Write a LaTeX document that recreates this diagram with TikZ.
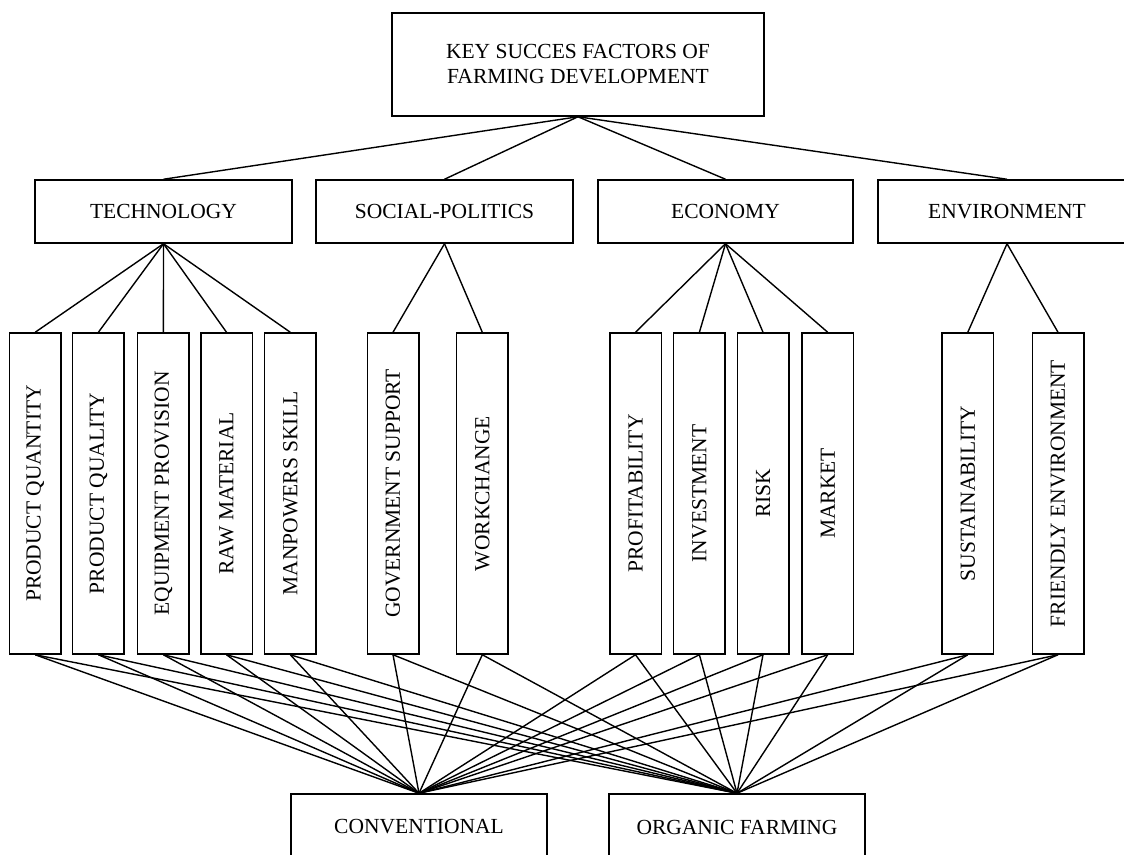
\documentclass[tikz,border=0pt]{standalone}
\usepackage{fontspec}
\usepackage{graphicx}
\setmainfont{Liberation Serif}
\begin{document}
\begin{tikzpicture}[x=1pt,y=-1pt,
  box/.style={draw,line width=1.5pt,inner sep=0pt,align=center,
    font=\fontsize{21.5}{25}\selectfont},
  catbox/.style={box,minimum height=63pt},
  leafbox/.style={box,minimum width=51.5pt,minimum height=321pt},
  altbox/.style={box,minimum width=256pt,minimum height=66pt},
  conn/.style={line width=1.4pt}]
\useasboundingbox (0,0) rectangle (1124,854);
\clip (0,0) rectangle (1124,854);
% goal
\node[box,minimum width=372pt,minimum height=103pt] (goal) at (578,64.5)
  {KEY SUCCES FACTORS OF\\FARMING DEVELOPMENT};
% criteria
\node[catbox,minimum width=257pt] (tech) at (163.5,211.5) {TECHNOLOGY};
\node[catbox,minimum width=257pt] (soc)  at (444.5,211.5) {SOCIAL-POLITICS};
\node[catbox,minimum width=255pt] (eco)  at (725.5,211.5) {ECONOMY};
\node[catbox,minimum width=258pt] (env)  at (1007,211.5) {ENVIRONMENT};
% sub-criteria
\node[leafbox] (l1)  at (35.2,493.5)  {\rotatebox{90}{PRODUCT QUANTITY}};
\node[leafbox] (l2)  at (98.4,493.5)  {\rotatebox{90}{PRODUCT QUALITY}};
\node[leafbox] (l3)  at (163.4,493.5) {\rotatebox{90}{EQUIPMENT PROVISION}};
\node[leafbox] (l4)  at (226.5,493.5) {\rotatebox{90}{RAW MATERIAL}};
\node[leafbox] (l5)  at (290.3,493.5) {\rotatebox{90}{MANPOWERS SKILL}};
\node[leafbox] (l6)  at (393,493.5)   {\rotatebox{90}{GOVERNMENT SUPPORT}};
\node[leafbox] (l7)  at (482.3,493.5) {\rotatebox{90}{WORKCHANGE}};
\node[leafbox] (l8)  at (635.5,493.5) {\rotatebox{90}{PROFITABILITY}};
\node[leafbox] (l9)  at (699.4,493.5) {\rotatebox{90}{INVESTMENT}};
\node[leafbox] (l10) at (763,493.5)   {\rotatebox{90}{RISK}};
\node[leafbox] (l11) at (827.7,493.5) {\rotatebox{90}{MARKET}};
\node[leafbox] (l12) at (967.8,493.5) {\rotatebox{90}{SUSTAINABILITY}};
\node[leafbox] (l13) at (1058,493.5)  {\rotatebox{90}{FRIENDLY ENVIRONMENT}};
% alternatives
\node[altbox] (conv) at (419,827) {CONVENTIONAL};
\node[altbox] (org)  at (737,827) {ORGANIC FARMING};
% goal -> criteria
\foreach \c in {tech,soc,eco,env} \draw[conn] (goal.south) -- (\c.north);
% criteria -> sub-criteria
\foreach \l in {l1,l2,l3,l4,l5} \draw[conn] (tech.south) -- (\l.north);
\foreach \l in {l6,l7} \draw[conn] (soc.south) -- (\l.north);
\foreach \l in {l8,l9,l10,l11} \draw[conn] (eco.south) -- (\l.north);
\foreach \l in {l12,l13} \draw[conn] (env.south) -- (\l.north);
% sub-criteria -> alternatives
\foreach \l in {l1,l2,l3,l4,l5,l6,l7,l8,l9,l10,l11,l12,l13} {
  \draw[conn] (\l.south) -- (conv.north);
  \draw[conn] (\l.south) -- (org.north);
}
\end{tikzpicture}
\end{document}
